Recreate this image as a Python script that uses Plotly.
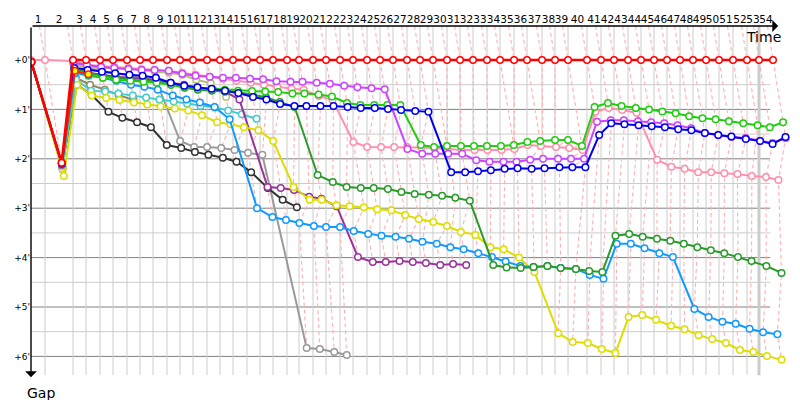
import plotly.graph_objects as go

# leader crossing time at the end of each lap, minutes (index 0 = start)
lap_end = [0.00, 1.75, 5.25, 6.88, 8.63, 10.25, 12.00, 13.63, 15.25, 17.00,
           18.63, 20.25, 22.00, 23.63, 25.25, 27.00, 28.63, 30.25, 32.00, 33.50,
           35.25, 36.88, 38.63, 40.25, 42.00, 43.63, 45.25, 47.00, 48.63, 50.25,
           52.00, 53.63, 55.25, 57.00, 58.63, 60.38, 62.00, 63.88, 65.50, 67.13,
           69.50, 71.25, 72.88, 74.63, 76.25, 77.88, 79.50, 81.13, 82.75, 84.38,
           86.00, 87.75, 89.50, 91.00, 92.75]

# gap to the leader (minutes) lap by lap, starting at lap 0
gap_red = [0.04, 2.08, 0, 0, 0, 0, 0, 0, 0, 0, 0, 0, 0, 0, 0, 0, 0, 0, 0, 0,
           0, 0, 0, 0, 0, 0, 0, 0, 0, 0, 0, 0, 0, 0, 0, 0, 0, 0, 0, 0,
           0, 0, 0, 0, 0, 0, 0, 0, 0, 0, 0, 0, 0, 0, 0]
gap_orange = [0.04, 2.08, 0.22, 0.29]
gap_pink = [0.0, 0.0, 0.02, 0.10, 0.12, 0.14, 0.16, 0.18, 0.20, 0.22,
            0.26, 0.30, 0.34, 0.38, 0.42, 0.46, 0.50, 0.54, 0.58, 0.60,
            0.73, 0.81, 1.66, 1.76, 1.76, 1.76, 1.76, 1.77, 1.78, 1.80,
            1.82, 1.82, 1.82, 1.82, 1.80, 1.72, 1.74, 1.76, 1.78, 1.82,
            1.05, 0.97, 1.01, 1.07, 2.02, 2.16, 2.20, 2.27, 2.27, 2.29,
            2.31, 2.35, 2.37, 2.43]
gap_violet = [0.04, 2.12, 0.06, 0.10, 0.14, 0.16, 0.18, 0.20, 0.20, 0.22,
              0.28, 0.32, 0.34, 0.36, 0.36, 0.38, 0.39, 0.43, 0.44, 0.44,
              0.46, 0.48, 0.52, 0.55, 0.57, 0.59, 1.80, 1.90, 1.90, 1.90,
              1.90, 2.03, 2.06, 2.06, 2.06, 2.02, 2.00, 2.00, 2.00, 2.00,
              1.25, 1.22, 1.22, 1.24, 1.26, 1.28, 1.32, 1.38, 1.48, 1.52,
              1.56, 1.58, 1.64, 1.68, 1.58]
gap_blue = [0.04, 2.10, 0.16, 0.20, 0.24, 0.27, 0.30, 0.32, 0.36, 0.46,
            0.52, 0.55, 0.58, 0.62, 0.67, 0.75, 0.80, 0.89, 0.93, 0.93,
            0.93, 0.93, 0.95, 0.97, 0.97, 0.99, 1.01, 1.03, 1.05, 2.27,
            2.27, 2.25, 2.23, 2.20, 2.19, 2.20, 2.19, 2.17, 2.17, 2.17,
            1.52, 1.28, 1.30, 1.32, 1.34, 1.36, 1.40, 1.42, 1.48, 1.52,
            1.55, 1.60, 1.64, 1.70, 1.56]
gap_green = [0.04, 2.10, 0.20, 0.30, 0.36, 0.40, 0.42, 0.44, 0.46, 0.50,
             0.54, 0.56, 0.58, 0.60, 0.62, 0.63, 0.64, 0.65, 0.68, 0.68,
             0.70, 0.74, 0.87, 0.91, 0.91, 0.91, 0.91, 1.72, 1.76, 1.74,
             1.74, 1.74, 1.74, 1.74, 1.72, 1.66, 1.64, 1.62, 1.62, 1.74,
             0.95, 0.87, 0.93, 0.97, 1.00, 1.04, 1.08, 1.14, 1.18, 1.20,
             1.24, 1.28, 1.32, 1.36, 1.26]
gap_darkgreen = [0.04, 2.12, 0.18, 0.26, 0.32, 0.36, 0.40, 0.42, 0.44, 0.50,
                 0.56, 0.60, 0.62, 0.64, 0.66, 0.70, 0.76, 0.85, 0.95, 2.33,
                 2.47, 2.57, 2.59, 2.59, 2.61, 2.67, 2.71, 2.73, 2.75, 2.79,
                 2.85, 4.15, 4.20, 4.21, 4.19, 4.17, 4.21, 4.23, 4.27, 4.29,
                 3.56, 3.52, 3.58, 3.62, 3.66, 3.72, 3.79, 3.85, 3.91, 3.99,
                 4.07, 4.17, 4.31]
gap_purple = [0.04, 2.12, 0.20, 0.26, 0.30, 0.34, 0.36, 0.38, 0.40, 0.46,
              0.50, 0.56, 0.60, 0.64, 0.80, 2.57, 2.59, 2.63, 2.77, 2.81,
              2.96, 3.99, 4.09, 4.09, 4.07, 4.09, 4.11, 4.15, 4.13, 4.15]
gap_skyblue = [0.04, 2.12, 0.26, 0.32, 0.36, 0.42, 0.50, 0.54, 0.60, 0.72,
               0.80, 0.86, 0.95, 1.20, 3.00, 3.18, 3.24, 3.30, 3.36, 3.38,
               3.38, 3.46, 3.52, 3.56, 3.58, 3.62, 3.68, 3.72, 3.79, 3.83,
               3.91, 3.99, 4.08, 4.17, 4.19, 4.17, 4.21, 4.23, 4.35, 4.43,
               3.72, 3.72, 3.81, 3.91, 3.99, 5.04, 5.20, 5.30, 5.34, 5.44,
               5.51, 5.55]
gap_yellow = [0.04, 2.35, 0.50, 0.72, 0.77, 0.81, 0.86, 0.90, 0.94, 0.98,
              1.02, 1.12, 1.26, 1.30, 1.36, 1.42, 1.64, 2.57, 2.83, 2.83,
              2.94, 2.96, 2.98, 3.02, 3.04, 3.14, 3.22, 3.28, 3.36, 3.48,
              3.54, 3.79, 3.83, 4.00, 4.29, 5.53, 5.71, 5.73, 5.85, 5.93,
              5.20, 5.16, 5.26, 5.38, 5.45, 5.57, 5.65, 5.73, 5.87, 5.91,
              5.99, 6.07]
gap_gray = [0.04, 2.18, 0.08, 0.16, 0.22, 0.27, 0.31, 0.36, 0.44, 1.64,
            1.76, 1.76, 1.78, 1.82, 1.88, 1.92, 5.83, 5.85, 5.91, 5.97]
gap_black = [0.04, 2.14, 0.50, 0.71, 1.05, 1.17, 1.26, 1.36, 1.72, 1.78,
             1.86, 1.92, 1.98, 2.06, 2.27, 2.59, 2.83, 2.98]
gap_cyan = [0.04, 2.14, 0.40, 0.62, 0.64, 0.68, 0.72, 0.76, 0.80, 0.84,
            0.88, 0.93, 0.96, 1.02, 1.10, 1.19]
gap_olive = [0.04, 2.22, 0.10, 0.14, 0.16, 0.16, 0.17, 0.20, 0.24, 0.26,
             0.30, 0.40, 0.47, 0.75]
gap_brown = [0.04, 2.18, 0.36, 0.50, 0.60, 0.71, 0.81]

# drawing order: last one on top
cars = [
    (gap_gray, "#9a9a9a", "white"),
    (gap_black, "#333333", "white"),
    (gap_brown, "#8f8760", "white"),
    (gap_olive, "#b5c07a", "white"),
    (gap_cyan, "#44cccc", "white"),
    (gap_purple, "#993399", "white"),
    (gap_yellow, "#dddd00", "white"),
    (gap_skyblue, "#1199ff", "white"),
    (gap_darkgreen, "#2a9a2a", "white"),
    (gap_pink, "#ff8fab", "white"),
    (gap_green, "#22cc11", "white"),
    (gap_violet, "#cc44ff", "white"),
    (gap_blue, "#0000ee", "white"),
    (gap_orange, "#ff2200", "#ffff00"),
    (gap_red, "#ff0000", "white"),
]

y_top, y_bot = -0.6883, 6.4372
x_max = 95

fig = go.Figure()

# lap lines: every crossing that happens between two leader crossings, joined by gap
points = []
for gaps, color, fill in cars:
    for lap, g in enumerate(gaps):
        points.append((lap_end[lap] + g, g))
lx, ly = [], []
for k, t in enumerate(lap_end):
    t_next = lap_end[k + 1] if k + 1 < len(lap_end) else 1e9
    grp = sorted([p for p in points if t <= p[0] < t_next], key=lambda p: p[1])
    seg = [(t + y_top, y_top)] + grp
    lx += [p[0] for p in seg] + [None]
    ly += [p[1] for p in seg] + [None]
fig.add_trace(go.Scatter(x=lx, y=ly, mode="lines", hoverinfo="skip", showlegend=False,
                         line=dict(color="#ffb0b0", width=1.1, dash="4px,3px")))

for gaps, color, fill in cars:
    xs = [lap_end[lap] + g for lap, g in enumerate(gaps)]
    fig.add_trace(go.Scatter(
        x=xs, y=gaps, mode="lines+markers", showlegend=False, hoverinfo="skip",
        line=dict(color=color, width=2.5 if color == "#ff0000" else 2),
        marker=dict(symbol="circle", size=6.5, color=fill, line=dict(color=color, width=1.5)),
    ))

# grid
shapes = []
for k in range(1, 13):
    g = k / 2
    major = k % 2 == 0
    shapes.append(dict(type="line", xref="x", yref="y", x0=0, x1=92.4, y0=g, y1=g,
                       line=dict(color="#808080" if major else "#cccccc", width=1), layer="below"))
for k, t in enumerate(lap_end[1:-1], start=1):
    shapes.append(dict(type="line", xref="x", yref="y", x0=t, x1=t, y0=y_top, y1=6.38,
                       line=dict(color="#cccccc", width=3 if k == 53 else 1), layer="below"))

lap_mid = [(lap_end[k - 1] + lap_end[k]) / 2 for k in range(1, len(lap_end))]
lap_text = [str(k) for k in range(1, len(lap_end))]

fig.update_layout(
    width=800, height=400,
    margin=dict(l=31, r=9, t=26, b=22),
    plot_bgcolor="white", paper_bgcolor="white",
    shapes=shapes,
    font=dict(family="DejaVu Sans", color="black"),
    xaxis=dict(range=[0, x_max], side="top", tickvals=lap_mid, ticktext=lap_text,
               tickangle=0, ticks="", showgrid=False, zeroline=False, showline=False,
               automargin=False, tickfont=dict(size=10.5, color="black")),
    yaxis=dict(range=[y_bot, y_top], tickvals=[0, 1, 2, 3, 4, 5, 6],
               ticktext=["+0'", "+1'", "+2'", "+3'", "+4'", "+5'", "+6'"],
               ticks="", showgrid=False, zeroline=False, showline=False,
               automargin=False, tickfont=dict(size=9, color="black")),
)

# axes with arrows
fig.add_annotation(x=93.4, y=y_top, ax=0, ay=y_top, xref="x", yref="y", axref="x", ayref="y",
                   text="", showarrow=True, arrowhead=1, arrowsize=1.4, arrowwidth=1.4,
                   arrowcolor="black")
fig.add_annotation(x=0, y=6.42, ax=0, ay=y_top, xref="x", yref="y", axref="x", ayref="y",
                   text="", showarrow=True, arrowhead=1, arrowsize=1.4, arrowwidth=1.4,
                   arrowcolor="black")
fig.add_annotation(x=91.5, y=-0.47, xref="x", yref="y", text="Time", showarrow=False,
                   font=dict(size=14, color="black"))
fig.add_annotation(x=-0.008, y=-0.015, xref="paper", yref="paper", text="Gap", showarrow=False,
                   yanchor="top", font=dict(size=14, color="black"))

# the page's default body margin would shift the 800x400 figure
fig.write_html("out.html", config={"displayModeBar": False},
               post_script="document.body.style.margin='0px';")
